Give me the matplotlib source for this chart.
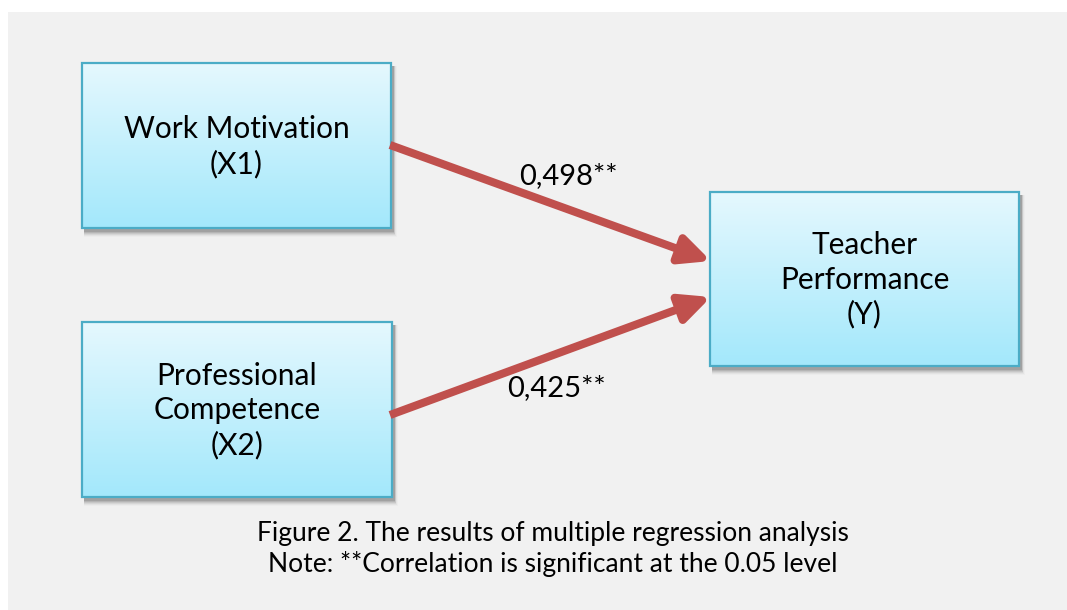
import numpy as np
import matplotlib.pyplot as plt
from matplotlib.patches import Rectangle, FancyArrowPatch

# diagram content
node_labels = ["Work Motivation\n(X1)", "Professional\nCompetence\n(X2)", "Teacher\nPerformance\n(Y)"]
coef_labels = ["0,498**", "0,425**"]
caption = ["Figure 2. The results of multiple regression analysis",
           "Note: **Correlation is significant at the 0.05 level"]

# layout in pixel coords (x0, y0, x1, y1)
boxes = [(82, 63, 391, 228), (82, 322, 392, 497), (710, 192, 1019, 366)]
arrows = [((390, 145), (711, 261)), ((390, 415), (711, 297))]
coef_pos = [(568, 176), (556, 388)]

W, H = 1067, 610
fig = plt.figure(figsize=(W / 100, H / 100), dpi=100)
ax = fig.add_axes([0, 0, 1, 1])
ax.set_xlim(0, W)
ax.set_ylim(H, 0)
ax.axis('off')

ax.add_patch(Rectangle((8, 12), W, H, facecolor='#f1f1f1', edgecolor='none', zorder=0))

top = np.array([229, 248, 254]) / 255
bot = np.array([163, 232, 251]) / 255
grad = np.linspace(0, 1, 200)[:, None, None] * (bot - top) + top
grad = np.repeat(grad, 2, axis=1)

for (x0, y0, x1, y1), lab in zip(boxes, node_labels):
    # soft shadow
    for k, a in zip(range(1, 7), [0.10, 0.09, 0.07, 0.05, 0.035, 0.02]):
        ax.add_patch(Rectangle((x0 + 2, y0 + 3), x1 - x0 + k * 0.6, y1 - y0 + k,
                               facecolor='#000000', alpha=a, edgecolor='none', zorder=1))
    ax.imshow(grad, extent=(x0, x1, y1, y0), aspect='auto', zorder=2, interpolation='bilinear')
    ax.add_patch(Rectangle((x0, y0), x1 - x0, y1 - y0, facecolor='none',
                           edgecolor='#4bacc6', lw=1.6, zorder=3))
    ax.text((x0 + x1) / 2, (y0 + y1) / 2 + 1, lab, ha='center', va='center',
            fontsize=21.5, family='Lato', linespacing=1.27, zorder=4)

for (p0, p1) in arrows:
    ax.add_patch(FancyArrowPatch(p0, p1, arrowstyle='-|>,head_length=18,head_width=8.5',
                                 mutation_scale=1, lw=5.8, color='#c0504d',
                                 shrinkA=0, shrinkB=0, capstyle='butt', zorder=5))

for (x, y), lab in zip(coef_pos, coef_labels):
    ax.text(x, y, lab, ha='center', va='center', fontsize=21, family='Lato', zorder=6)

ax.text(553, 534, caption[0], ha='center', va='center', fontsize=19, family='Lato')
ax.text(553, 564, caption[1], ha='center', va='center', fontsize=19, family='Lato')

fig.savefig('out.png', dpi=100)
